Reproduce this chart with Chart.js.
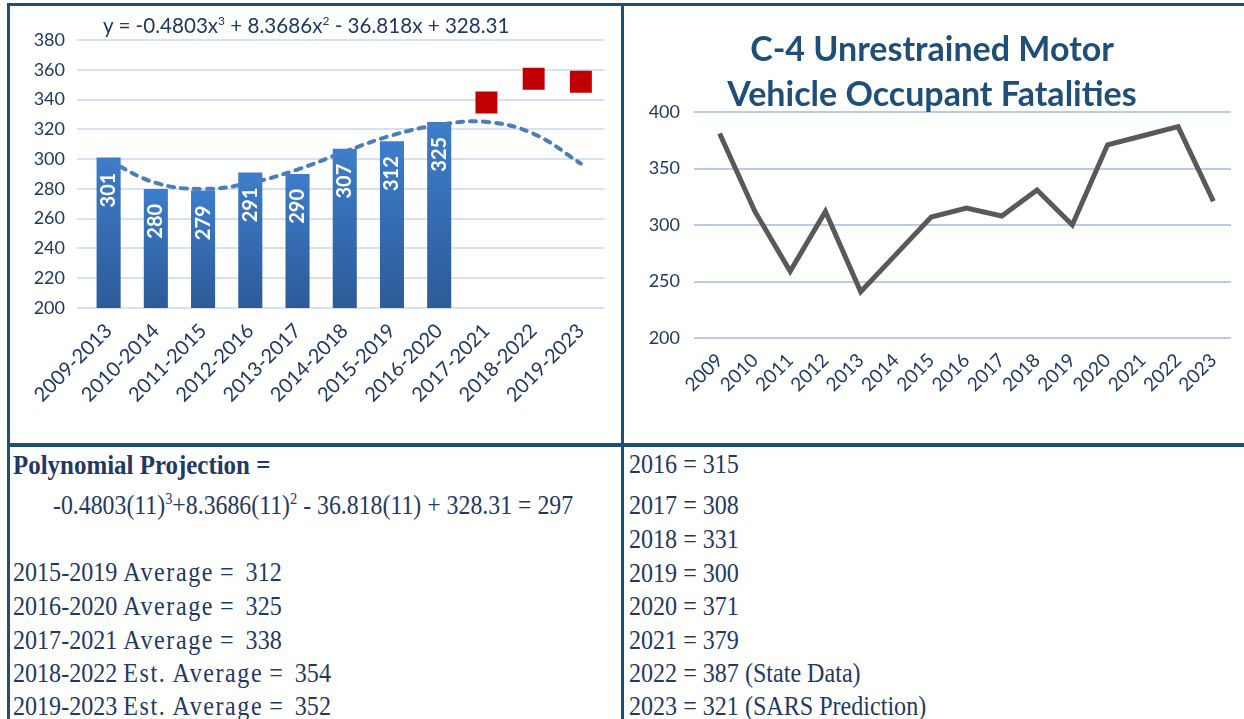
<!DOCTYPE html>
<html>
<head>
<meta charset="utf-8">
<script src="https://cdn.jsdelivr.net/npm/chart.js@4.4.0/dist/chart.umd.min.js"></script>
<style>
  body { margin: 0; width: 1244px; height: 719px; overflow: hidden; position: relative; background: #fff; }
  .rule { position: absolute; background: #1F4E79; }
  #leftBox { position: absolute; left: 10px; top: 7px; width: 610px; height: 436px; }
  #rightBox { position: absolute; left: 624px; top: 7px; width: 620px; height: 436px; }
  .eq { position: absolute; left: 103px; top: 13px; font: 20.6px Lato, sans-serif; color: #1F3864; white-space: nowrap; }
  .eq sup { font-size: 12px; vertical-align: 8px; line-height: 0; }
  .title { position: absolute; left: 624px; width: 616px; top: 25px; text-align: center;
           font: bold 34px Lato, sans-serif; color: #1F4E79; line-height: 45px; }
  .note { position: absolute; font-family: "Liberation Serif", serif; font-size: 28px; color: #1F3864;
          white-space: nowrap; line-height: 28px; transform: scaleX(0.86); transform-origin: 0 0; }
  .note sup { font-size: 17px; vertical-align: 10px; line-height: 0; }
  .sp { letter-spacing: 1.8px; }
</style>
</head>
<body>
<div class="rule" style="left:7px; top:3px; width:1237px; height:3px;"></div>
<div class="rule" style="left:7px; top:3px; width:3px; height:716px;"></div>
<div class="rule" style="left:621px; top:3px; width:3px; height:716px;"></div>
<div class="rule" style="left:7px; top:443px; width:1237px; height:4px;"></div>

<div id="leftBox"><canvas id="averageChart"></canvas></div>
<div id="rightBox"><canvas id="yearChart"></canvas></div>

<div class="eq">y = -0.4803x<sup>3</sup> + 8.3686x<sup>2</sup> - 36.818x + 328.31</div>
<div class="title">C-4 Unrestrained Motor<br>Vehicle Occupant Fatalities</div>

<div class="note" style="left:13px; top:451px; font-weight:bold; transform:scaleX(0.89);">Polynomial Projection =</div>
<div class="note" style="left:53px; top:491px; transform:scaleX(0.85);">-0.4803(11)<sup>3</sup>+8.3686(11)<sup>2</sup> - 36.818(11) + 328.31 = 297</div>
<div class="note" style="left:13px; top:558px;">2015-2019 <span class="sp">Average</span> =&nbsp; 312</div>
<div class="note" style="left:13px; top:592px;">2016-2020 <span class="sp">Average</span> =&nbsp; 325</div>
<div class="note" style="left:13px; top:626px;">2017-2021 <span class="sp">Average</span> =&nbsp; 338</div>
<div class="note" style="left:13px; top:659px;">2018-2022 <span class="sp">Est. Average</span> =&nbsp; 354</div>
<div class="note" style="left:13px; top:692px;">2019-2023 <span class="sp">Est. Average</span> =&nbsp; 352</div>

<div class="note" style="left:629px; top:450px;">2016 = 315</div>
<div class="note" style="left:629px; top:491px;">2017 = 308</div>
<div class="note" style="left:629px; top:525px;">2018 = 331</div>
<div class="note" style="left:629px; top:559px;">2019 = 300</div>
<div class="note" style="left:629px; top:592px;">2020 = 371</div>
<div class="note" style="left:629px; top:626px;">2021 = 379</div>
<div class="note" style="left:629px; top:659px;">2022 = 387 (State Data)</div>
<div class="note" style="left:629px; top:692px;">2023 = 321 (SARS Prediction)</div>

<script>
/*
DATA
*/
const periodLabels = ['2009-2013', '2010-2014', '2011-2015', '2012-2016', '2013-2017', '2014-2018',
                      '2015-2019', '2016-2020', '2017-2021', '2018-2022', '2019-2023'];
const averageValues = [301, 280, 279, 291, 290, 307, 312, 325, null, null, null];
const estimateValues = [null, null, null, null, null, null, null, null, 338, 354, 352];
const trendValues = [299, 284, 280, 284, 293, 305, 316, 323, 325, 317, 297];

const yearLabels = ['2009', '2010', '2011', '2012', '2013', '2014', '2015', '2016',
                    '2017', '2018', '2019', '2020', '2021', '2022', '2023'];
const yearValues = [381, 312, 259, 312, 241, 274, 307, 315, 308, 331, 300, 371, 379, 387, 321];

const navy = '#1F3864';
const tickFont = { family: 'Lato', size: 18 };

/*
LEFT CHART - 5 YEAR AVERAGES
*/
const barLabels = {
  id: 'barLabels',
  afterDatasetsDraw(chart) {
    const meta = chart.getDatasetMeta(0);
    const ctx = chart.ctx;
    ctx.save();
    ctx.fillStyle = '#fff';
    ctx.font = 'bold 20px Lato';
    ctx.textAlign = 'right';
    ctx.textBaseline = 'middle';
    meta.data.forEach((bar, i) => {
      if (averageValues[i] == null) return;
      ctx.save();
      ctx.translate(bar.x, bar.y + 15);
      ctx.rotate(-Math.PI / 2);
      ctx.fillText(String(averageValues[i]), 0, 0);
      ctx.restore();
    });
    ctx.restore();
  }
};

function barGradient(context) {
  const chart = context.chart;
  if (!chart.chartArea || context.raw == null) return '#3A72BA';
  const y = chart.scales.y;
  const top = y.getPixelForValue(context.raw);
  const bottom = y.getPixelForValue(200);
  const g = chart.ctx.createLinearGradient(0, top, 0, bottom);
  g.addColorStop(0, '#3D7DCB');
  g.addColorStop(1, '#2D5B98');
  return g;
}

const averageChart = new Chart(document.getElementById('averageChart'), {
  type: 'bar',
  data: {
    labels: periodLabels,
    datasets: [{
      type: 'bar',
      data: averageValues,
      backgroundColor: barGradient,
      barPercentage: 0.51,
      categoryPercentage: 1,
      order: 2
    }, {
      type: 'line',
      data: estimateValues,
      showLine: false,
      pointStyle: 'rect',
      pointRadius: 15.5,
      pointBackgroundColor: '#C00000',
      pointBorderWidth: 0,
      order: 1
    }, {
      type: 'line',
      data: trendValues,
      borderColor: '#4A7EBB',
      borderWidth: 4,
      borderDash: [6, 7],
      borderCapStyle: 'round',
      tension: 0.4,
      pointRadius: 0,
      order: 0
    }]
  },
  options: {
    responsive: true,
    maintainAspectRatio: false,
    animation: false,
    layout: { padding: { top: 33, right: 15, left: 0, bottom: 0 } },
    plugins: { legend: { display: false }, tooltip: { enabled: false } },
    scales: {
      x: {
        offset: true,
        grid: { display: false },
        border: { display: false },
        ticks: { font: { family: 'Lato', size: 20 }, color: navy, minRotation: 45, maxRotation: 45, autoSkip: false },
        afterFit: s => { s.height = 135; }
      },
      y: {
        min: 200,
        max: 380,
        grid: { color: '#D6E1F1', lineWidth: 2 },
        border: { display: false },
        ticks: { stepSize: 20, font: tickFont, color: navy, padding: 12 },
        afterFit: s => { s.width = 75; }
      }
    }
  },
  plugins: [barLabels]
});

/*
RIGHT CHART - YEARLY FATALITIES
*/
const yearChart = new Chart(document.getElementById('yearChart'), {
  type: 'line',
  data: {
    labels: yearLabels,
    datasets: [{
      data: yearValues,
      borderColor: '#595959',
      borderWidth: 5,
      pointRadius: 0,
      tension: 0
    }]
  },
  options: {
    responsive: true,
    maintainAspectRatio: false,
    animation: false,
    layout: { padding: { top: 105, right: 13, left: 0, bottom: 0 } },
    plugins: { legend: { display: false }, tooltip: { enabled: false } },
    scales: {
      x: {
        offset: true,
        grid: { display: false },
        border: { display: false },
        ticks: { font: { family: 'Lato', size: 19 }, color: navy, minRotation: 45, maxRotation: 45, autoSkip: false },
        afterFit: s => { s.height = 105; }
      },
      y: {
        min: 200,
        max: 400,
        grid: { color: '#B8CCE8', lineWidth: 2 },
        border: { display: false },
        ticks: { stepSize: 50, font: tickFont, color: navy, padding: 14 },
        afterFit: s => { s.width = 78; }
      }
    }
  }
});
</script>
</body>
</html>
